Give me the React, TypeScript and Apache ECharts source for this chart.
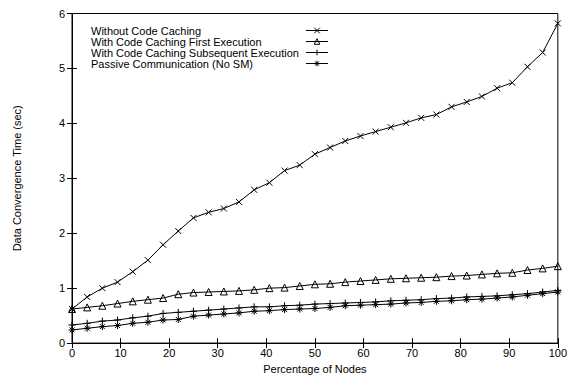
import React, { useEffect, useRef } from 'react';
import * as echarts from 'echarts';

const xValues = [0, 3.125, 6.25, 9.375, 12.5, 15.625, 18.75, 21.875, 25, 28.125, 31.25, 34.375, 37.5, 40.625, 43.75, 46.875, 50, 53.125, 56.25, 59.375, 62.5, 65.625, 68.75, 71.875, 75, 78.125, 81.25, 84.375, 87.5, 90.625, 93.75, 96.875, 100];

const withoutCaching = [0.62, 0.84, 1.0, 1.11, 1.3, 1.51, 1.79, 2.04, 2.28, 2.38, 2.45, 2.57, 2.79, 2.92, 3.14, 3.24, 3.44, 3.56, 3.68, 3.77, 3.85, 3.93, 4.01, 4.1, 4.16, 4.3, 4.39, 4.49, 4.64, 4.74, 5.03, 5.29, 5.82];
const firstExecution = [0.62, 0.65, 0.68, 0.72, 0.76, 0.79, 0.82, 0.89, 0.92, 0.93, 0.94, 0.95, 0.97, 1.0, 1.01, 1.04, 1.07, 1.08, 1.11, 1.13, 1.15, 1.17, 1.18, 1.19, 1.2, 1.22, 1.23, 1.25, 1.27, 1.28, 1.33, 1.36, 1.4];
const subsequentExecution = [0.33, 0.36, 0.4, 0.42, 0.46, 0.49, 0.54, 0.56, 0.58, 0.6, 0.62, 0.64, 0.66, 0.66, 0.68, 0.69, 0.71, 0.72, 0.73, 0.74, 0.75, 0.77, 0.78, 0.79, 0.81, 0.82, 0.84, 0.85, 0.86, 0.88, 0.9, 0.93, 0.96];
const passive = [0.24, 0.27, 0.3, 0.32, 0.36, 0.38, 0.42, 0.43, 0.49, 0.51, 0.53, 0.55, 0.58, 0.59, 0.61, 0.62, 0.63, 0.65, 0.68, 0.69, 0.7, 0.71, 0.73, 0.74, 0.76, 0.77, 0.79, 0.8, 0.82, 0.84, 0.87, 0.9, 0.93];

const seriesNames = [
  'Without Code Caching',
  'With Code Caching First Execution',
  'With Code Caching Subsequent Execution',
  'Passive Communication (No SM)',
];

const FONT = '"Liberation Sans", Arial, Helvetica, sans-serif';

const symCross = 'path://M0,0L10,10M10,0L0,10';
const symTriangle = 'path://M5,0L10,9L0,9Z';
const symPlus = 'path://M5,0L5,10M0,5L10,5';
const symStar = 'path://M5,0L5,10M0,5L10,5M1.5,1.5L8.5,8.5M8.5,1.5L1.5,8.5';

export default function App() {
  const ref = useRef<HTMLDivElement>(null);
  useEffect(() => {
    if (!ref.current) return;
    const chart = echarts.init(ref.current, undefined, { renderer: 'svg' });
    const mk = (name: string, data: number[], symbol: string, size: number, fill: string) => ({
      name,
      type: 'line',
      data: xValues.map((x, i) => [x, data[i]]),
      symbol,
      symbolSize: size,
      showAllSymbol: true,
      lineStyle: { color: '#000', width: 1 },
      itemStyle: { color: fill, borderColor: '#000', borderWidth: 1 },
      emphasis: { disabled: true },
    });
    const axisTick = { show: true, inside: true, length: 5, lineStyle: { color: '#000', width: 1 } };
    const axisLabel = { color: '#000', fontSize: 11, fontFamily: FONT };
    chart.setOption({
      animation: false,
      backgroundColor: '#fff',
      grid: {
        left: 72, right: 11, top: 13.5, bottom: 26.5,
        show: true, borderColor: '#000', borderWidth: 1,
      },
      legend: {
        show: true,
        orient: 'vertical',
        left: 86,
        top: 20,
        align: 'right',
        itemGap: 0,
        itemWidth: 22,
        itemHeight: 7,
        data: seriesNames,
        formatter: (n: string) => `{a|${n}}`,
        itemStyle: { borderWidth: 1, borderColor: '#000' },
        lineStyle: { width: 1, color: '#000' },
        textStyle: {
          color: '#000', fontSize: 11, fontFamily: FONT,
          rich: { a: { width: 210, align: 'left', fontSize: 11, fontFamily: FONT, color: '#000', lineHeight: 10.3 } },
        },
      },
      xAxis: [
        {
          type: 'value', min: 0, max: 100, interval: 10,
          name: 'Percentage of Nodes', nameLocation: 'middle', nameGap: 15,
          nameTextStyle: { color: '#000', fontSize: 11, fontFamily: FONT },
          axisLine: { show: true, lineStyle: { color: '#000' } },
          axisTick, axisLabel: { ...axisLabel, margin: 4 },
          splitLine: { show: false },
        },
        {
          type: 'value', min: 0, max: 100, interval: 10, position: 'top',
          axisLine: { show: false }, axisTick, axisLabel: { show: false },
          splitLine: { show: false },
        },
      ],
      yAxis: [
        {
          type: 'value', min: 0, max: 6, interval: 1,
          name: 'Data Convergence Time (sec)', nameLocation: 'middle', nameGap: 50,
          nameTextStyle: { color: '#000', fontSize: 11, fontFamily: FONT },
          axisLine: { show: true, lineStyle: { color: '#000' } },
          axisTick, axisLabel: { ...axisLabel, margin: 7 },
          splitLine: { show: false },
        },
        {
          type: 'value', min: 0, max: 6, interval: 1, position: 'right',
          axisLine: { show: false }, axisTick, axisLabel: { show: false },
          splitLine: { show: false },
        },
      ],
      series: [
        mk(seriesNames[0], withoutCaching, symCross, 6, '#000'),
        mk(seriesNames[1], firstExecution, symTriangle, 7, 'rgba(0,0,0,0)'),
        mk(seriesNames[2], subsequentExecution, symPlus, 7, '#000'),
        mk(seriesNames[3], passive, symStar, 7, '#000'),
      ],
    });
    return () => chart.dispose();
  }, []);
  return <div ref={ref} style={{ position: 'fixed', left: 0, top: 0, width: 570, height: 379 }} />;
}
